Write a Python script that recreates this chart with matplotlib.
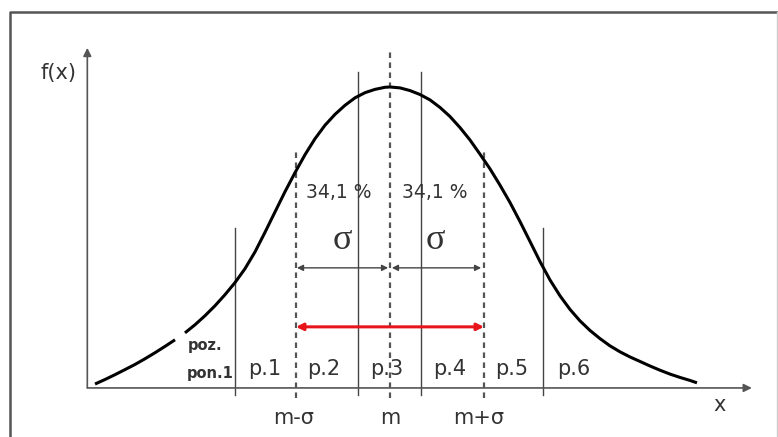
import matplotlib
matplotlib.use("Agg")
import matplotlib.pyplot as plt
import numpy as np

# bell curve (x in sigma units from m, y relative to peak)
curve_x = [-3.138, -3.032, -2.926, -2.819, -2.713, -2.606, -2.500, -2.394, -2.287,
           -2.181, -2.074, -1.968, -1.862, -1.755, -1.649, -1.543, -1.436, -1.330,
           -1.223, -1.117, -1.011, -0.904, -0.798, -0.691, -0.585, -0.479, -0.372,
           -0.266, -0.160, -0.053, 0.0, 0.106, 0.213, 0.319, 0.426, 0.532, 0.638,
           0.745, 0.851, 0.957, 1.064, 1.170, 1.277, 1.383, 1.489, 1.596, 1.702,
           1.809, 1.915, 2.021, 2.128, 2.234, 2.340, 2.447, 2.553, 2.660, 2.766,
           2.872, 2.979, 3.085, 3.191, 3.266]
curve_y = [0.013, 0.028, 0.044, 0.061, 0.078, 0.097, 0.117, 0.138, 0.160,
           0.183, 0.210, 0.240, 0.273, 0.310, 0.350, 0.396, 0.452, 0.517,
           0.585, 0.652, 0.715, 0.775, 0.828, 0.873, 0.909, 0.939, 0.964,
           0.981, 0.992, 0.999, 1.0, 0.997, 0.988, 0.975, 0.957, 0.932, 0.902,
           0.865, 0.824, 0.777, 0.728, 0.674, 0.616, 0.553, 0.487, 0.420, 0.359,
           0.306, 0.261, 0.223, 0.191, 0.164, 0.140, 0.120, 0.103, 0.088, 0.073,
           0.059, 0.046, 0.035, 0.025, 0.017]
gap_after = 8  # the curve is broken behind the "poz." label

# interval borders
solid_x = [-1.65, -0.34, 0.33, 1.63]
solid_top = [0.532, 1.05, 1.05, 0.532]
dashed_x = [-1.0, 0.0, 1.0]
dashed_top = [0.797, 1.13, 0.797]

part_labels = ["p.1", "p.2", "p.3", "p.4", "p.5", "p.6"]
part_x = [-1.33, -0.71, -0.03, 0.64, 1.30, 1.95]
tick_labels = ["m-σ", "m", "m+σ"]
tick_x = [-1.03, 0.0, 0.94]
pct_labels = ["34,1 %", "34,1 %"]
pct_x = [-0.55, 0.48]

fig = plt.figure(figsize=(7.78, 4.37), dpi=100)
ax = fig.add_axes([0, 0, 1, 1])
ax.set_xlim(-4.149, 4.128)
ax.set_ylim(-0.163, 1.289)
ax.axis("off")

# frame around picture
ax.plot([0.013, 0.013, 1.0], [0.0, 0.9725, 0.9725], transform=ax.transAxes,
        color="#555555", lw=1.8, clip_on=False)
ax.plot([0.9985, 0.9985], [0.0, 0.9725], transform=ax.transAxes,
        color="#cccccc", lw=1)

# axes arrows
ax.annotate("", xy=(-3.22, 1.13), xytext=(-3.22, 0.0),
            arrowprops=dict(arrowstyle="-|>", color="#555555", lw=1.2,
                            mutation_scale=12, shrinkA=0, shrinkB=0))
ax.annotate("", xy=(3.85, 0.0), xytext=(-3.22, 0.0),
            arrowprops=dict(arrowstyle="-|>", color="#555555", lw=1.2,
                            mutation_scale=12, shrinkA=0, shrinkB=0))

for x, top in zip(solid_x, solid_top):
    ax.plot([x, x], [-0.023, top], color="#444444", lw=1)
for x, top in zip(dashed_x, dashed_top):
    ax.plot([x, x], [-0.033, top], color="#555555", lw=1.6, dashes=(2.5, 2))

ax.plot(curve_x[:gap_after + 1], curve_y[:gap_after + 1], color="black", lw=2.2,
        solid_capstyle="butt", solid_joinstyle="round")
ax.plot(curve_x[gap_after + 1:], curve_y[gap_after + 1:], color="black", lw=2.2,
        solid_capstyle="butt", solid_joinstyle="round")

# sigma arrows
for a, b in [(-0.99, -0.02), (0.02, 0.97)]:
    ax.annotate("", xy=(b, 0.399), xytext=(a, 0.399),
                arrowprops=dict(arrowstyle="<|-|>", color="#444444", lw=1,
                                mutation_scale=9, shrinkA=0, shrinkB=0))
# red +/- sigma arrow
ax.annotate("", xy=(1.0, 0.203), xytext=(-1.0, 0.203),
            arrowprops=dict(arrowstyle="<|-|>", color="#e8141b", lw=2.2,
                            mutation_scale=10, shrinkA=0, shrinkB=0))

txt = "#333333"
for lab, x in zip(part_labels, part_x):
    ax.text(x, 0.063, lab, ha="center", va="center", fontsize=15, color=txt)
for lab, x in zip(tick_labels, tick_x):
    ax.text(x, -0.10, lab, ha="center", va="center", fontsize=15, color=txt)
for lab, x in zip(pct_labels, pct_x):
    ax.text(x, 0.651, lab, ha="center", va="center", fontsize=13.5, color=txt)
for x in [-0.51, 0.48]:
    ax.text(x, 0.49, "σ", ha="center", va="center", fontsize=26,
            family="Liberation Serif", color=txt)

ax.text(-1.97, 0.14, "poz.", ha="center", va="center", fontsize=10.5,
        fontweight="bold", color=txt)
ax.text(-1.91, 0.047, "pon.1", ha="center", va="center", fontsize=10.5,
        fontweight="bold", color=txt)
ax.text(-3.53, 1.047, "f(x)", ha="center", va="center", fontsize=15, color=txt)
ax.text(3.51, -0.056, "x", ha="center", va="center", fontsize=15, color=txt)

fig.savefig("out.png", dpi=100)
